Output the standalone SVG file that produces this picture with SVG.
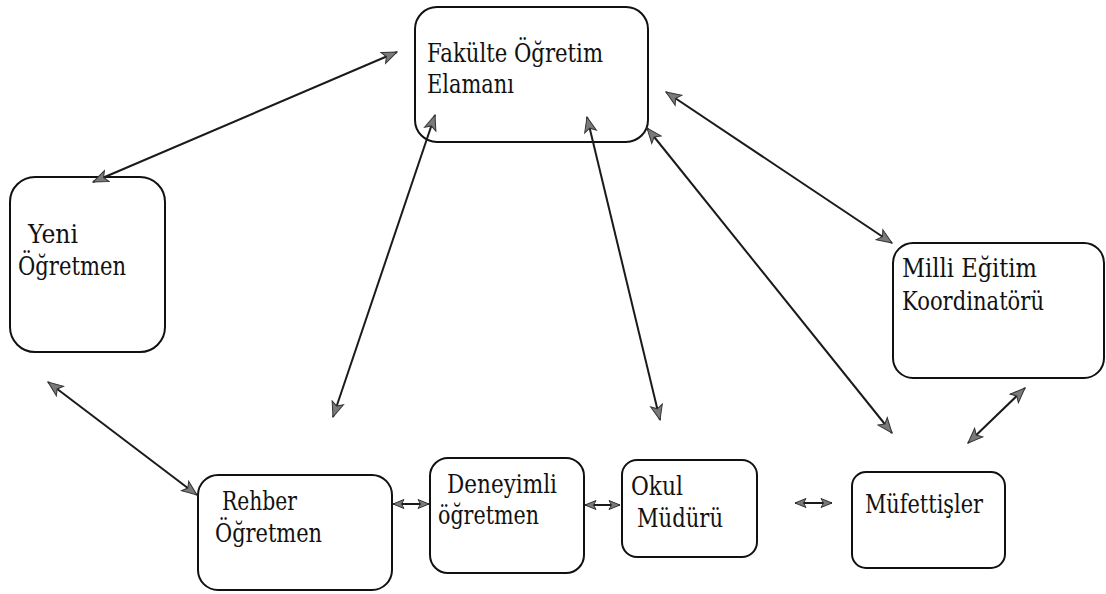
<svg xmlns="http://www.w3.org/2000/svg" width="1106" height="594" viewBox="0 0 1106 594">
<style>
.box{fill:#fff;stroke:#111;stroke-width:2}
.t{font-family:'DejaVu Serif','Liberation Serif',serif;font-size:26px;fill:#111}
.c{stroke:#1a1a1a;stroke-width:2;fill:none;marker-start:url(#ah);marker-end:url(#ah)}
.s{stroke:#1a1a1a;stroke-width:2;fill:none;marker-start:url(#ahs);marker-end:url(#ahs)}
</style>
<defs>
<marker id="ah" markerUnits="userSpaceOnUse" markerWidth="17" markerHeight="15" viewBox="0 0 17 15" refX="16" refY="7.5" orient="auto-start-reverse">
<path d="M1,1.5 L16,7.5 L1,13.5 L4.5,7.5 Z" fill="#7a7a7a" stroke="#333" stroke-width="1"/>
</marker>
<marker id="ahs" markerUnits="userSpaceOnUse" markerWidth="13" markerHeight="12" viewBox="0 0 13 12" refX="12" refY="6" orient="auto-start-reverse">
<path d="M1,1.5 L12,6 L1,10.5 L3.5,6 Z" fill="#7a7a7a" stroke="#333" stroke-width="1"/>
</marker>
</defs>
<rect width="1106" height="594" fill="#fff"/>
<g id="fakulte">
<rect class="box" x="415" y="7" width="233" height="135" rx="22"/>
<text class="t" x="427" y="62" textLength="176" lengthAdjust="spacingAndGlyphs">Fakülte Öğretim</text>
<text class="t" x="427" y="93" textLength="87" lengthAdjust="spacingAndGlyphs">Elamanı</text>
</g>
<g id="yeni">
<rect class="box" x="10" y="177" width="155" height="175" rx="25"/>
<text class="t" x="28" y="243" textLength="50" lengthAdjust="spacingAndGlyphs">Yeni</text>
<text class="t" x="18" y="275" textLength="108" lengthAdjust="spacingAndGlyphs">Öğretmen</text>
</g>
<g id="milli">
<rect class="box" x="893" y="243" width="211" height="135" rx="20"/>
<text class="t" x="902" y="277" textLength="135" lengthAdjust="spacingAndGlyphs">Milli Eğitim</text>
<text class="t" x="902" y="310" textLength="142" lengthAdjust="spacingAndGlyphs">Koordinatörü</text>
</g>
<g id="rehber">
<rect class="box" x="198" y="475" width="194" height="115" rx="20"/>
<text class="t" x="222" y="510" textLength="75" lengthAdjust="spacingAndGlyphs">Rehber</text>
<text class="t" x="215" y="542" textLength="107" lengthAdjust="spacingAndGlyphs">Öğretmen</text>
</g>
<g id="deneyimli">
<rect class="box" x="430" y="458" width="154" height="115" rx="18"/>
<text class="t" x="447" y="493" textLength="110" lengthAdjust="spacingAndGlyphs">Deneyimli</text>
<text class="t" x="438" y="524" textLength="101" lengthAdjust="spacingAndGlyphs">öğretmen</text>
</g>
<g id="okul">
<rect class="box" x="622" y="460" width="135" height="97" rx="15"/>
<text class="t" x="631" y="495" textLength="52" lengthAdjust="spacingAndGlyphs">Okul</text>
<text class="t" x="637" y="527" textLength="86" lengthAdjust="spacingAndGlyphs">Müdürü</text>
</g>
<g id="mufettisler">
<rect class="box" x="852" y="472" width="153" height="96" rx="14"/>
<text class="t" x="865" y="513" textLength="118" lengthAdjust="spacingAndGlyphs">Müfettişler</text>
</g>
<g id="connectors">
<line class="c" x1="93" y1="182" x2="397" y2="52"/>
<line class="c" x1="48" y1="382" x2="197" y2="495"/>
<line class="c" x1="435" y1="115" x2="333" y2="417"/>
<line class="c" x1="587" y1="117" x2="660" y2="420"/>
<line class="c" x1="647" y1="128" x2="892" y2="433"/>
<line class="c" x1="666" y1="92" x2="892" y2="243"/>
<line class="c" x1="1025" y1="388" x2="968" y2="443"/>
<line class="s" x1="393" y1="504" x2="429" y2="504"/>
<line class="s" x1="585" y1="505" x2="620" y2="505"/>
<line class="s" x1="795" y1="503" x2="832" y2="503"/>
</g>
</svg>
